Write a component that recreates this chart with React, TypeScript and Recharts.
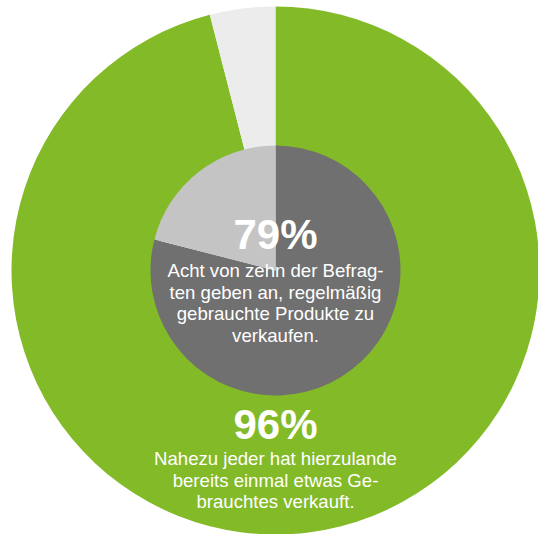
import React from 'react';
import { PieChart, Pie, Cell } from 'recharts';

const outerLabels = ['Schon einmal Gebrauchtes verkauft', 'Noch nie'];
const outerValues = [96, 4];
const innerLabels = ['Regelmäßig', 'Nicht regelmäßig'];
const innerValues = [79, 21];
const outerColors = ['#83ba28', '#ececec'];
const innerColors = ['#707070', '#c4c4c4'];

const innerTitle = '79%';
const innerText = ['Acht von zehn der Befrag-', 'ten geben an, regelmäßig', 'gebrauchte Produkte zu', 'verkaufen.'];
const outerTitle = '96%';
const outerText = ['Nahezu jeder hat hierzulande', 'bereits einmal etwas Ge-', 'brauchtes verkauft.'];

const outerData = outerLabels.map((name, i) => ({ name, value: outerValues[i] }));
const innerData = innerLabels.map((name, i) => ({ name, value: innerValues[i] }));

const CX = 275.5;
const CY = 270.5;
const FONT = '"Liberation Sans", Arial, Helvetica, sans-serif';

const Texts = () => (
  <svg width={538} height={534} style={{ position: 'absolute', left: 0, top: 0, pointerEvents: 'none' }}>
    <g fill="#ffffff" fontFamily={FONT} textAnchor="middle">
      <text x={CX} y={249} fontSize={42} fontWeight="bold">{innerTitle}</text>
      {innerText.map((t, i) => (
        <text key={i} x={CX} y={277 + i * 21.7} fontSize={18.6}>{t}</text>
      ))}
      <text x={CX} y={439} fontSize={42} fontWeight="bold">{outerTitle}</text>
      {outerText.map((t, i) => (
        <text key={i} x={CX} y={465 + i * 21.7} fontSize={18.6}>{t}</text>
      ))}
    </g>
  </svg>
);

export default function App() {
  return (
    <div style={{ position: 'absolute', left: 0, top: 0, width: 538, height: 534, background: '#ffffff' }}>
      <PieChart width={538} height={534} margin={{ top: 0, right: 0, bottom: 0, left: 0 }}>
        <Pie
          data={outerData}
          dataKey="value"
          cx={CX}
          cy={CY}
          innerRadius={120}
          outerRadius={264}
          startAngle={90}
          endAngle={-270}
          stroke="none"
          isAnimationActive={false}
        >
          {outerData.map((d, i) => (
            <Cell key={d.name} fill={outerColors[i]} />
          ))}
        </Pie>
        <Pie
          data={innerData}
          dataKey="value"
          cx={CX}
          cy={CY}
          innerRadius={0}
          outerRadius={125}
          startAngle={90}
          endAngle={-270}
          stroke="none"
          isAnimationActive={false}
        >
          {innerData.map((d, i) => (
            <Cell key={d.name} fill={innerColors[i]} />
          ))}
        </Pie>
      </PieChart>
      <Texts />
    </div>
  );
}
